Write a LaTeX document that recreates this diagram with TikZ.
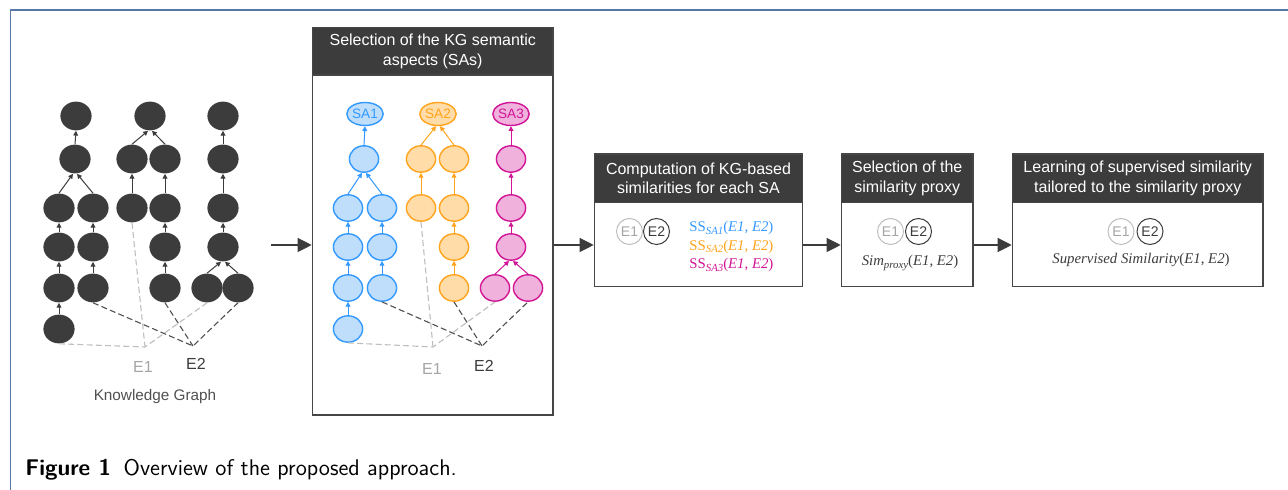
\RequirePackage{fix-cm}
\documentclass[tikz,border=0pt]{standalone}
\usepackage{fontspec}
\newfontfamily\arialf{Liberation Sans}
\newfontfamily\serf{Liberation Serif}
\newcommand{\sbs}[1]{\raisebox{-0.4ex}{\fontsize{5.4}{6}\selectfont\itshape #1}}
\usetikzlibrary{arrows.meta,shapes.geometric}
\definecolor{dk}{RGB}{60,60,60}
\definecolor{bordc}{RGB}{70,70,70}
\definecolor{frameblue}{RGB}{88,120,165}
\definecolor{bstroke}{RGB}{51,153,255}
\definecolor{bfill}{RGB}{190,222,252}
\definecolor{ostroke}{RGB}{255,164,28}
\definecolor{ofill}{RGB}{255,220,168}
\definecolor{mstroke}{RGB}{210,20,150}
\definecolor{mfill}{RGB}{240,178,220}
\definecolor{lgray}{RGB}{190,190,190}
\definecolor{ltext}{RGB}{165,165,165}
\definecolor{dgray}{RGB}{80,80,80}
\begin{document}
\begin{tikzpicture}[x=0.5pt,y=-0.5pt,
  kg/.style={ellipse, fill=dk, minimum width=15.6pt, minimum height=14.4pt, inner sep=0pt},
  cnode/.style={ellipse, line width=0.7pt, minimum width=14.6pt, minimum height=13.2pt, inner sep=0pt},
  bn/.style={cnode, draw=bstroke, fill=bfill},
  on/.style={cnode, draw=ostroke, fill=ofill},
  mn/.style={cnode, draw=mstroke, fill=mfill},
  sanode/.style={ellipse, line width=0.7pt, minimum width=15pt, minimum height=11.5pt, inner sep=0pt, font=\arialf\fontsize{6.8}{7}\selectfont},
  ed/.style={draw=dk, line width=0.5pt, -{Triangle[length=2.4pt,width=2.4pt]}},
  bed/.style={ed, draw=bstroke},
  oed/.style={ed, draw=ostroke},
  med/.style={ed, draw=mstroke},
  ldash/.style={draw=lgray, line width=0.55pt, dash pattern=on 3pt off 1.6pt},
  ddash/.style={draw=dgray, line width=0.55pt, dash pattern=on 3pt off 1.6pt},
  lbl/.style={font=\arialf\fontsize{8}{9}\selectfont, inner sep=0pt},
  boxst/.style={draw=bordc, line width=0.8pt, fill=white, inner sep=0pt},
  hdr/.style={fill=dk, draw=bordc, line width=0.8pt, text=white, align=center, inner sep=0pt, font=\arialf\fontsize{8}{9.7}\selectfont},
  ecirc/.style={circle, line width=0.5pt, minimum size=13pt, inner sep=0pt, font=\arialf\fontsize{7}{8}\selectfont},
  e1c/.style={ecirc, draw=lgray, text=ltext},
  e2c/.style={ecirc, draw=dk, text=dk},
  fmla/.style={inner sep=0pt, font=\serf\fontsize{7.4}{8}\selectfont},
  bigar/.style={draw=dk, line width=0.6pt, -{Triangle[length=7pt,width=7pt]}}
]
\useasboundingbox (0,0) rectangle (1288,490);
% frame
\draw[frameblue, line width=0.9pt] (10.5,490) -- (10.5,9.8) -- (1288,9.8);

% ---------- Knowledge graph ----------
\node[kg] (a1) at (76,116) {};
\node[kg] (a2) at (75,159) {};
\node[kg] (a3l) at (59,208) {};
\node[kg] (a3r) at (93,208) {};
\node[kg] (a4l) at (59,247) {};
\node[kg] (a4r) at (93,247) {};
\node[kg] (a5l) at (59,288) {};
\node[kg] (a5r) at (93,288) {};
\node[kg] (a6l) at (59,329) {};
\node[kg] (b1) at (150,116) {};
\node[kg] (b2l) at (132,159) {};
\node[kg] (b2r) at (165,159) {};
\node[kg] (b3l) at (132,208) {};
\node[kg] (b3r) at (165,208) {};
\node[kg] (b4r) at (165,247) {};
\node[kg] (b5r) at (165,288) {};
\node[kg] (c1) at (223,116) {};
\node[kg] (c2) at (223,159) {};
\node[kg] (c3) at (223,208) {};
\node[kg] (c4) at (223,247) {};
\node[kg] (c5l) at (207,288) {};
\node[kg] (c5r) at (238,288) {};

\draw[ed] (a2.north) -- (a1.south);
\draw[ed] (a3l.north) -- ([xshift=-1pt]a2.south);
\draw[ed] (a3r.north) -- ([xshift=1pt]a2.south);
\draw[ed] (a4l.north) -- (a3l.south);
\draw[ed] (a5l.north) -- (a4l.south);
\draw[ed] (a6l.north) -- (a5l.south);
\draw[ed] (a4r.north) -- (a3r.south);
\draw[ed] (a5r.north) -- (a4r.south);
\draw[ed] (b2l.north) -- ([xshift=-1pt]b1.south);
\draw[ed] (b2r.north) -- ([xshift=1pt]b1.south);
\draw[ed] (b3l.north) -- (b2l.south);
\draw[ed] (b3r.north) -- (b2r.south);
\draw[ed] (b4r.north) -- (b3r.south);
\draw[ed] (b5r.north) -- (b4r.south);
\draw[ed] (c2.north) -- (c1.south);
\draw[ed] (c3.north) -- (c2.south);
\draw[ed] (c4.north) -- (c3.south);
\draw[ed] (c5l.north) -- ([xshift=-1pt]c4.south);
\draw[ed] (c5r.north) -- ([xshift=1pt]c4.south);

\coordinate (ke1) at (145,347);
\coordinate (ke2) at (193,346);
\draw[ldash] (a6l.south) -- (ke1) -- (c5l.south);
\draw[ldash] (b3l.south) -- (ke1);
\draw[ddash] (a5r.south) -- (ke2) -- (c5r.south);
\draw[ddash] (b5r.south) -- (ke2);
\node[lbl, text=ltext] (ke1l) at (143,367) {E1};
\node[lbl, text=dk] (ke2l) at (196,364) {E2};
\node[font=\arialf\fontsize{7.65}{9}\selectfont, text=dgray, inner sep=0pt] (kgl) at (155,397) {Knowledge Graph};

% ---------- Selection of SAs ----------
\node[boxst, minimum width=120.25pt, minimum height=193.75pt] (sabox) at (432.75,221.25) {};
\node[hdr, minimum width=120.25pt, minimum height=23.75pt, anchor=north] (sahdr) at (sabox.north) {Selection of the KG semantic\\aspects (SAs)};

\node[sanode, draw=bstroke, fill=bfill, text=bstroke] (sa1) at (365,114) {SA1};
\node[bn] (mb2) at (364,159) {};
\node[bn] (mb3l) at (348,208) {};
\node[bn] (mb3r) at (382,208) {};
\node[bn] (mb4l) at (348,247) {};
\node[bn] (mb4r) at (382,247) {};
\node[bn] (mb5l) at (348,288) {};
\node[bn] (mb5r) at (382,288) {};
\node[bn] (mb6l) at (348,329) {};
\node[sanode, draw=ostroke, fill=ofill, text=ostroke] (sa2) at (438,114) {SA2};
\node[on] (mo2l) at (421,159) {};
\node[on] (mo2r) at (454,159) {};
\node[on] (mo3l) at (421,208) {};
\node[on] (mo3r) at (454,208) {};
\node[on] (mo4r) at (454,247) {};
\node[on] (mo5r) at (454,288) {};
\node[sanode, draw=mstroke, fill=mfill, text=mstroke] (sa3) at (511,114) {SA3};
\node[mn] (mm2) at (511,159) {};
\node[mn] (mm3) at (511,208) {};
\node[mn] (mm4) at (511,247) {};
\node[mn] (mm5l) at (495,288) {};
\node[mn] (mm5r) at (528,288) {};

\draw[bed] (mb2.north) -- (sa1.south);
\draw[bed] (mb3l.north) -- ([xshift=-1pt]mb2.south);
\draw[bed] (mb3r.north) -- ([xshift=1pt]mb2.south);
\draw[bed] (mb4l.north) -- (mb3l.south);
\draw[bed] (mb5l.north) -- (mb4l.south);
\draw[bed] (mb6l.north) -- (mb5l.south);
\draw[bed] (mb4r.north) -- (mb3r.south);
\draw[bed] (mb5r.north) -- (mb4r.south);
\draw[oed] (mo2l.north) -- ([xshift=-1pt]sa2.south);
\draw[oed] (mo2r.north) -- ([xshift=1pt]sa2.south);
\draw[oed] (mo3l.north) -- (mo2l.south);
\draw[oed] (mo3r.north) -- (mo2r.south);
\draw[oed] (mo4r.north) -- (mo3r.south);
\draw[oed] (mo5r.north) -- (mo4r.south);
\draw[med] (mm2.north) -- (sa3.south);
\draw[med] (mm3.north) -- (mm2.south);
\draw[med] (mm4.north) -- (mm3.south);
\draw[med] (mm5l.north) -- ([xshift=-1pt]mm4.south);
\draw[med] (mm5r.north) -- ([xshift=1pt]mm4.south);

\coordinate (me1) at (433,347);
\coordinate (me2) at (482,346);
\draw[ldash] (mb6l.south) -- (me1) -- (mm5l.south);
\draw[ldash] (mo3l.south) -- (me1);
\draw[ddash] (mb5r.south) -- (me2) -- (mm5r.south);
\draw[ddash] (mo5r.south) -- (me2);
\node[lbl, text=ltext] (me1l) at (432,369) {E1};
\node[lbl, text=dk] (me2l) at (484,366) {E2};

% ---------- Computation box ----------
\node[boxst, minimum width=104pt, minimum height=66.35pt] (cbox) at (698.5,220.35) {};
\node[hdr, minimum width=104pt, minimum height=24.35pt, anchor=north] (chdr) at (cbox.north) {Computation of KG-based\\similarities for each SA};
\node[e1c] (ce1) at (629.5,231.5) {E1};
\node[e2c] (ce2) at (656.5,231.5) {E2};
\node[fmla, anchor=west, text=bstroke] (ss1) at (689,228) {SS\sbs{SA1}(\textit{E1}, \textit{E2})};
\node[fmla, anchor=west, text=ostroke] (ss2) at (689,246.7) {SS\sbs{SA2}(\textit{E1}, \textit{E2})};
\node[fmla, anchor=west, text=mstroke] (ss3) at (689,265) {SS\sbs{SA3}(\textit{E1}, \textit{E2})};

% ---------- Proxy box ----------
\node[boxst, minimum width=65.75pt, minimum height=66.35pt] (pbox) at (907.25,220.35) {};
\node[hdr, minimum width=65.75pt, minimum height=24.35pt, anchor=north] (phdr) at (pbox.north) {Selection of the\\similarity proxy};
\node[e1c] (pe1) at (890.5,231.5) {E1};
\node[e2c] (pe2) at (918.5,231.5) {E2};
\node[fmla, text=dk] (simp) at (910,263) {\textit{Sim}\sbs{proxy}(\textit{E1}, \textit{E2})};

% ---------- Learning box ----------
\node[boxst, minimum width=125.25pt, minimum height=66.35pt] (lbox) at (1137.75,220.35) {};
\node[hdr, minimum width=125.25pt, minimum height=24.35pt, anchor=north] (lhdr) at (lbox.north) {Learning of supervised similarity\\tailored to the similarity proxy};
\node[e1c] (le1) at (1121,231.5) {E1};
\node[e2c] (le2) at (1150,231.5) {E2};
\node[fmla, text=dk] (sups) at (1141,260) {\textit{Supervised Similarity}(\textit{E1}, \textit{E2})};

% ---------- arrows ----------
\coordinate (kgout) at (271,245);
\coordinate (ay) at (0,245);
\draw[bigar] (kgout) -- (kgout -| sabox.west);
\draw[bigar] (sabox.east |- ay) -- (cbox.west |- ay);
\draw[bigar] (cbox.east |- ay) -- (pbox.west |- ay);
\draw[bigar] (pbox.east |- ay) -- (lbox.west |- ay);

% ---------- caption ----------
\node[anchor=west, inner sep=0pt, font=\sffamily\fontsize{11.35}{13}\selectfont] (cap) at (25,470) {\textbf{Figure 1}\hspace{0.55em}Overview of the proposed approach.};
\end{tikzpicture}
\end{document}
